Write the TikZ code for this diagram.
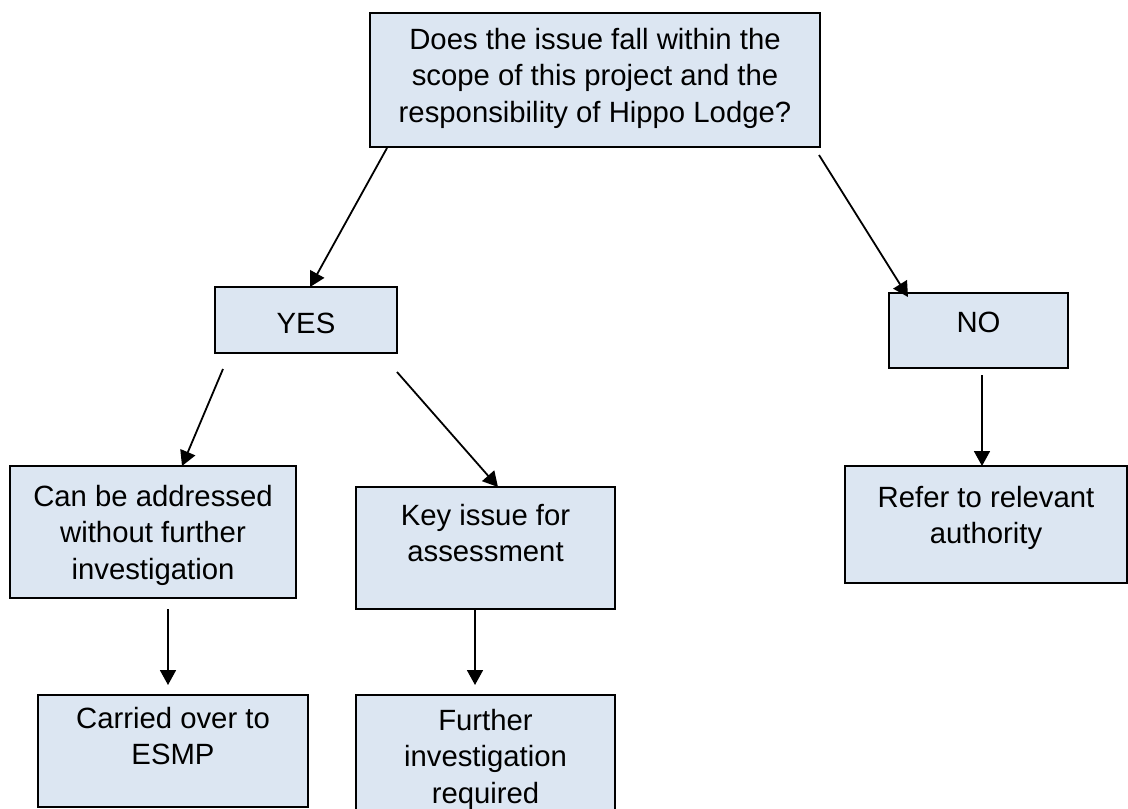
\documentclass[tikz,border=0pt]{standalone}
\usepackage{fontspec}
\setmainfont{Liberation Sans}
\usetikzlibrary{arrows.meta}
\definecolor{boxfill}{HTML}{DCE6F2}
\newcommand{\bxt}[4]{\begin{minipage}[c][#2pt][t]{#1pt}\centering\fontsize{29.3}{36.5}\selectfont\rule{0pt}{#3pt}#4\end{minipage}}
\tikzset{
  flowbox/.style={draw=black, line width=1.5pt, fill=boxfill, inner sep=0pt, outer sep=0pt},
  arr/.style={line width=1.8pt, -{Triangle[length=15pt,width=16pt]}}
}
\begin{document}
\begin{tikzpicture}[x=1pt,y=-1pt]
\useasboundingbox (0,0) rectangle (1128,809);
\node[flowbox] (top) at (595,80) {\bxt{450}{134}{36}{Does the issue fall within the\\ scope of this project and the\\ responsibility of Hippo Lodge?}};
\node[flowbox] (yes) at (306,320) {\bxt{182}{66}{46}{YES}};
\node[flowbox] (no) at (978.5,330.5) {\bxt{179}{75}{39}{NO}};
\node[flowbox] (refer) at (986,524.5) {\bxt{282}{117}{41}{Refer to relevant\\ authority}};
\node[flowbox] (can) at (153,532) {\bxt{286}{132}{40}{Can be addressed\\ without further\\ investigation}};
\node[flowbox] (key) at (485.5,548) {\bxt{259}{122}{38}{Key issue for\\ assessment}};
\node[flowbox] (carried) at (173,751) {\bxt{270}{112}{33}{Carried over to\\ ESMP}};
\node[flowbox] (further) at (485.5,762.5) {\bxt{259}{135}{35}{Further\\ investigation\\ required}};

\draw[arr] ([xshift=17pt,yshift=-1pt]top.south west) -- ([xshift=4pt]yes.north);
\draw[arr] ([xshift=-1pt,yshift=-8pt]top.south east) -- ([xshift=19pt,yshift=-4pt]no.north west);
\draw[arr] ([xshift=8pt,yshift=-16pt]yes.south west) -- ([xshift=29pt]can.north);
\draw[arr] ([yshift=-19pt]yes.south east) -- ([xshift=12.5pt]key.north);
\draw[arr, shorten >=10pt] ([xshift=15pt,yshift=-11pt]can.south) -- ([xshift=-5pt]carried.north);
\draw[arr, shorten >=10pt] ([xshift=-10.5pt]key.south) -- ([xshift=-10.5pt]further.north);
\draw[arr] ([xshift=3.5pt,yshift=-7pt]no.south) -- ([xshift=-4pt]refer.north);
\end{tikzpicture}
\end{document}
